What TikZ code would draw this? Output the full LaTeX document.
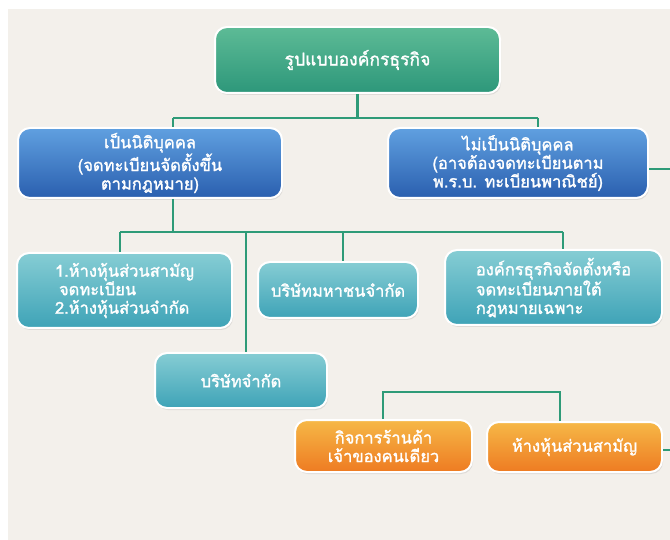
\documentclass[tikz,border=0pt]{standalone}
\usepackage{fontspec}
\newfontfamily\thaifont[Script=Thai, FakeBold=1.6]{Loma}
\usetikzlibrary{shadows}
\definecolor{bg}{HTML}{F3F0EB}
\definecolor{conn}{HTML}{2E9B78}
\definecolor{gtop}{HTML}{5DBB96}
\definecolor{gbot}{HTML}{2D977A}
\definecolor{btop}{HTML}{60A0E0}
\definecolor{bbot}{HTML}{2A5FAF}
\definecolor{ttop}{HTML}{86CDD4}
\definecolor{tbot}{HTML}{3EA3B7}
\definecolor{otop}{HTML}{F6B847}
\definecolor{obot}{HTML}{EE7B22}
\tikzset{
  boxbase/.style={draw=white, line width=2pt, rounded corners=12pt, text=white,
    font=\thaifont\fontsize{16.5}{18.5}\selectfont, inner sep=2pt,
    drop shadow={opacity=0.18, shadow xshift=1pt, shadow yshift=-2pt}},
  greenbox/.style={boxbase, top color=gtop, bottom color=gbot},
  bluebox/.style={boxbase, top color=btop, bottom color=bbot, align=center},
  tealbox/.style={boxbase, top color=ttop, bottom color=tbot},
  orangebox/.style={boxbase, top color=otop, bottom color=obot, align=center},
  conline/.style={draw=conn, line width=2.5pt}
}
\begin{document}
\begin{tikzpicture}[x=1pt,y=-1pt]
\useasboundingbox (0,0) rectangle (670,540);
\fill[white] (0,0) rectangle (670,540);
\fill[bg] (8,9) rectangle (670,540);

\node[greenbox, minimum width=285pt, minimum height=66pt, font=\thaifont\fontsize{17.5}{20}\selectfont] (top) at (357.5,60) {รูปแบบองค์กรธุรกิจ};
\node[bluebox, minimum width=264pt, minimum height=70pt] (lb) at (150,163) {เป็นนิติบุคคล\\(จดทะเบียนจัดตั้งขึ้น\\ตามกฎหมาย)};
\node[bluebox, minimum width=260pt, minimum height=70pt] (rb) at (518,163) {ไม่เป็นนิติบุคคล\\(อาจต้องจดทะเบียนตาม\\พ.ร.บ. ทะเบียนพาณิชย์)};
\node[tealbox, minimum width=215pt, minimum height=75pt, align=left] (b1) at (124.5,290.5) {1.ห้างหุ้นส่วนสามัญ\\\hspace*{4pt}จดทะเบียน\\2.ห้างหุ้นส่วนจำกัด};
\node[tealbox, minimum width=160pt, minimum height=56pt] (bm) at (338,290) {บริษัทมหาชนจำกัด};
\node[tealbox, minimum width=217pt, minimum height=75pt, align=left] (org) at (553.5,287.5) {องค์กรธุรกิจจัดตั้งหรือ\\จดทะเบียนภายใต้\\กฎหมายเฉพาะ};
\node[tealbox, minimum width=172pt, minimum height=55pt] (bc) at (241,380.5) {บริษัทจำกัด};
\node[orangebox, minimum width=177pt, minimum height=52pt] (o1) at (383.5,446) {กิจการร้านค้า\\เจ้าของคนเดียว};
\node[orangebox, minimum width=175pt, minimum height=50pt] (o2) at (574.5,447) {ห้างหุ้นส่วนสามัญ};

\coordinate (j1) at (357.5,118);
\coordinate (jl) at (173,118);
\coordinate (jr) at (538,118);
\coordinate (bus) at (173,232);
\coordinate (busl) at (120,232);
\coordinate (busr) at (563,232);
\coordinate (bcx) at (246,232);
\coordinate (bmx) at (343,232);
\coordinate (ob1) at (383,392);
\coordinate (ob2) at (560,392);
\coordinate (rend) at (670,169);
\coordinate (oend) at (670,450);

\draw[conline] (top.south) -- (j1);
\draw[conline] (jl) -- (jr);
\draw[conline] (jl) -- (jl |- lb.north);
\draw[conline] (jr) -- (jr |- rb.north);
\draw[conline] (bus |- lb.south) -- (bus);
\draw[conline] (busl) -- (busr);
\draw[conline] (busl) -- (busl |- b1.north);
\draw[conline] (bcx) -- (bcx |- bc.north);
\draw[conline] (bmx) -- (bmx |- bm.north);
\draw[conline] (busr) -- (busr |- org.north);
\draw[conline] (rb.east |- rend) -- (rend);
\draw[conline] (ob1 |- o1.north) -- (ob1) -- (ob2) -- (ob2 |- o2.north);
\draw[conline] (o2.east |- oend) -- (oend);
\end{tikzpicture}
\end{document}
